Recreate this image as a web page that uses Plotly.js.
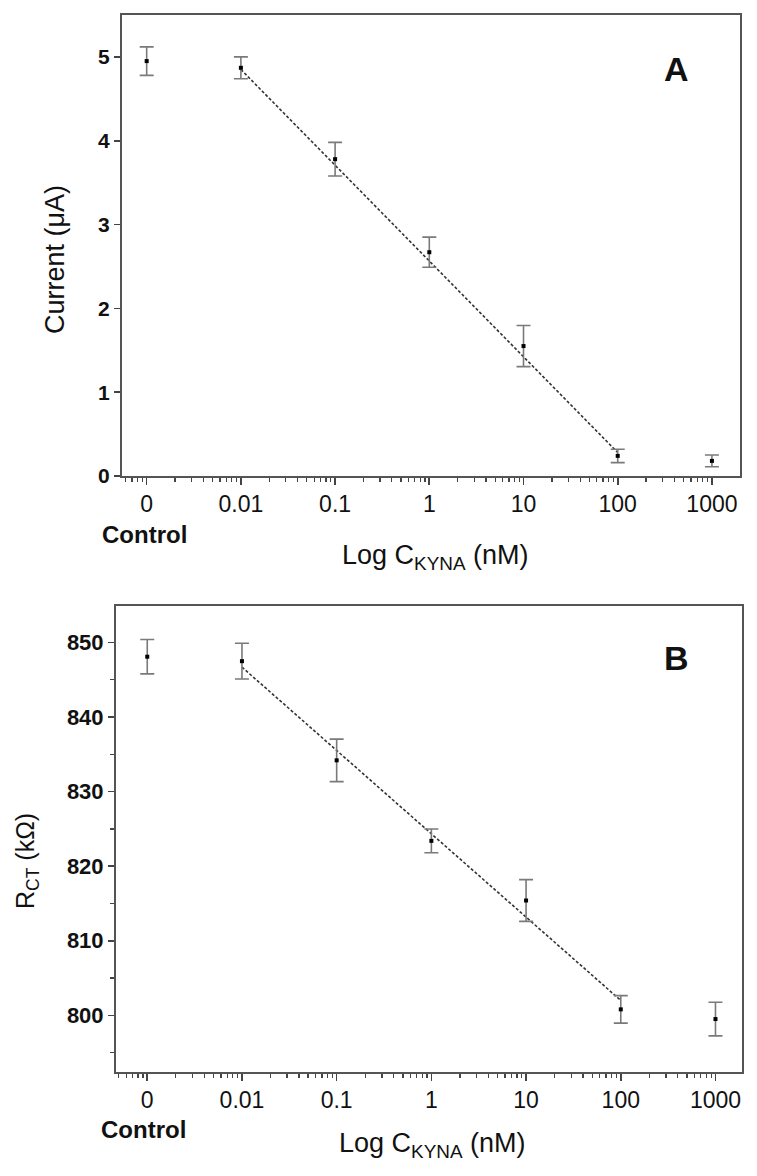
<!DOCTYPE html>
<html>
<head>
<meta charset="utf-8">
<script src="https://cdn.plot.ly/plotly-3.0.1.min.js"></script>
<style>html,body{margin:0;padding:0;background:#fff;}#chart{width:757px;height:1176px;}</style>
</head>
<body>
<div id="chart"></div>
<script>
// ---- data ----
const concLabels = ['0', '0.01', '0.1', '1', '10', '100', '1000'];
const concValues = [0.001, 0.01, 0.1, 1, 10, 100, 1000]; // "0" (Control) drawn one decade below 0.01
const currentA = [4.95, 4.87, 3.78, 2.67, 1.55, 0.24, 0.18];
const currentErr = [0.17, 0.13, 0.20, 0.18, 0.245, 0.08, 0.07];
const rctB = [848.1, 847.5, 834.2, 823.4, 815.4, 800.8, 799.5];
const rctErr = [2.3, 2.4, 2.85, 1.6, 2.8, 1.85, 2.25];
const fitConc = [0.01, 100];
const fitCurrent = [4.85, 0.28];
const fitRct = [846.7, 802.0];

// ---- layout helpers ----
const W = 757, H = 1176;
const px = x => x / W;
const py = y => 1 - y / H;
const FONT = 'Liberation Sans, Arial, sans-serif';
const AX = '#555';
const TK = '#444';

// log-axis minor tick positions (2..9 within each decade)
const minorVals = [];
for (let d = -4; d <= 3; d++) for (let k = 2; k <= 9; k++) minorVals.push(k * Math.pow(10, d));

const markerStyle = {symbol: 'square', size: 4, color: '#000'};
const errStyle = {type: 'data', visible: true, color: '#7a7a7a', thickness: 1.6, width: 7};
const fitLine = {color: '#333', width: 1.6, dash: '3px,2px'};

const traces = [
  {x: fitConc, y: fitCurrent, xaxis: 'x', yaxis: 'y', mode: 'lines', line: fitLine, hoverinfo: 'skip'},
  {x: concValues, y: currentA, xaxis: 'x', yaxis: 'y', mode: 'markers', marker: markerStyle,
   error_y: Object.assign({array: currentErr}, errStyle)},
  {x: fitConc, y: fitRct, xaxis: 'x2', yaxis: 'y2', mode: 'lines', line: fitLine, hoverinfo: 'skip'},
  {x: concValues, y: rctB, xaxis: 'x2', yaxis: 'y2', mode: 'markers', marker: markerStyle,
   error_y: Object.assign({array: rctErr}, errStyle)}
];

const XRANGE_A = [-3.262, 3.298];
const XRANGE_B = [-3.33, 3.28];

function xAxis(dom, range, anchor) {
  return {
    type: 'log', domain: dom, range: range, anchor: anchor,
    tickmode: 'array', tickvals: concValues, ticktext: concLabels,
    ticks: 'outside', ticklen: 6.5, tickwidth: 1.6, tickcolor: TK,
    showline: true, linecolor: AX, linewidth: 2, mirror: true,
    showgrid: false, zeroline: false,
    tickfont: {family: FONT, size: 23, color: '#111'},
    minor: {tickmode: 'array', tickvals: minorVals, ticks: 'outside', ticklen: 4, tickwidth: 1.3, tickcolor: TK, showgrid: false}
  };
}
function yAxis(dom, range, anchor, extra) {
  return Object.assign({
    domain: dom, range: range, anchor: anchor,
    ticks: 'outside', ticklen: 6, tickwidth: 1.6, tickcolor: TK,
    showline: true, linecolor: AX, linewidth: 2, mirror: true,
    showgrid: false, zeroline: false,
    tickfont: {family: FONT, size: 21, color: '#111', weight: 'bold'}
  }, extra);
}

const ann = (x, y, text, size, opts) => Object.assign({
  xref: 'paper', yref: 'paper', x: px(x), y: py(y), text: text, showarrow: false,
  xanchor: 'center', yanchor: 'middle', font: {family: FONT, size: size, color: '#111'}
}, opts || {});

const layout = {
  width: W, height: H,
  margin: {l: 0, r: 0, t: 0, b: 0},
  paper_bgcolor: '#fff', plot_bgcolor: '#fff',
  showlegend: false,
  xaxis: xAxis([px(122), px(740)], XRANGE_A, 'y'),
  yaxis: yAxis([py(476), py(15)], [0, 5.5], 'x', {tick0: 0, dtick: 1}),
  xaxis2: xAxis([px(116), px(742)], XRANGE_B, 'y2'),
  yaxis2: yAxis([py(1072), py(606)], [792.4, 854.9], 'x2',
    {tick0: 800, dtick: 10, tickfont: {family: FONT, size: 22, color: '#111', weight: 'bold'},
     minor: {ticks: 'outside', ticklen: 4, tickwidth: 1.3, tickcolor: TK, dtick: 5, showgrid: false}}),
  annotations: [
    ann(676, 69, '<b>A</b>', 34),
    ann(676, 658, '<b>B</b>', 34),
    ann(55, 260, 'Current (\u03bcA)', 27, {textangle: -90}),
    ann(27, 861, 'R<sub>CT</sub> (k\u03a9)', 25, {textangle: -90}),
    ann(144, 534, '<b>Control</b>', 24),
    ann(143, 1129, '<b>Control</b>', 24),
    ann(435, 557, 'Log C<sub>KYNA</sub>\u00a0(nM)', 27),
    ann(432, 1145, 'Log C<sub>KYNA</sub>\u00a0(nM)', 27)
  ]
};

Plotly.newPlot('chart', traces, layout, {staticPlot: true, displayModeBar: false});
</script>
</body>
</html>
